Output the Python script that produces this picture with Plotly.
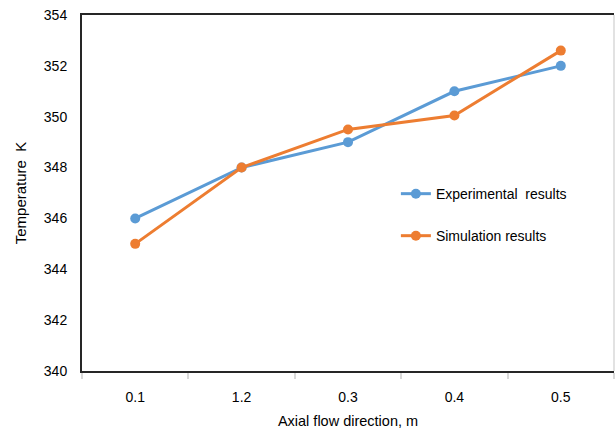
import plotly.graph_objects as go

categories = ["0.1", "1.2", "0.3", "0.4", "0.5"]
experimental = [346.0, 348.0, 349.0, 351.0, 352.0]
simulation = [345.0, 348.0, 349.5, 350.05, 352.6]
y_ticks = [340, 342, 344, 346, 348, 350, 352, 354]

FONT = "Liberation Sans, Arial, sans-serif"

fig = go.Figure()
fig.add_trace(go.Scatter(
    x=categories, y=experimental, name="Experimental\u00a0 results",
    mode="lines+markers",
    line=dict(color="#5B9BD5", width=3),
    marker=dict(color="#5B9BD5", size=10),
    legend="legend",
))
fig.add_trace(go.Scatter(
    x=categories, y=simulation, name="Simulation results",
    mode="lines+markers",
    line=dict(color="#ED7D31", width=3),
    marker=dict(color="#ED7D31", size=10),
    legend="legend2",
))

leg_common = dict(
    xanchor="left", yanchor="middle",
    font=dict(family=FONT, size=14, color="black"),
    bgcolor="rgba(0,0,0,0)",
)

fig.update_layout(
    width=616, height=438,
    margin=dict(l=82, r=2, t=15, b=67),
    paper_bgcolor="white", plot_bgcolor="white",
    showlegend=True,
    legend=dict(x=0.59, y=0.497, **leg_common),
    legend2=dict(x=0.59, y=0.379, **leg_common),
    xaxis=dict(
        type="category", range=[-0.5, 4.5],
        showline=True, linecolor="#262626", linewidth=2, mirror=True,
        showgrid=False, zeroline=False,
        ticks="outside", tickson="boundaries", tickcolor="#D9D9D9",
        ticklen=6, tickwidth=1.5,
        tickfont=dict(family=FONT, size=14, color="black"),
        ticklabelstandoff=12,
        title=dict(text="Axial flow direction, m",
                   font=dict(family=FONT, size=14.5, color="black"),
                   standoff=12),
    ),
    yaxis=dict(
        range=[340, 354], tickvals=y_ticks,
        showline=True, linecolor="#262626", linewidth=2,
        showgrid=False, zeroline=False,
        ticks="",
        tickfont=dict(family=FONT, size=14, color="black"),
        ticklabelstandoff=10,
        title=dict(text="Temperature\u00a0 K",
                   font=dict(family=FONT, size=15, color="black"),
                   standoff=14),
    ),
    shapes=[dict(type="line", xref="paper", yref="paper", x0=1, x1=1, y0=0, y1=1,
                 line=dict(color="#D9D9D9", width=1.5))],
)

fig.write_html("out.html")
